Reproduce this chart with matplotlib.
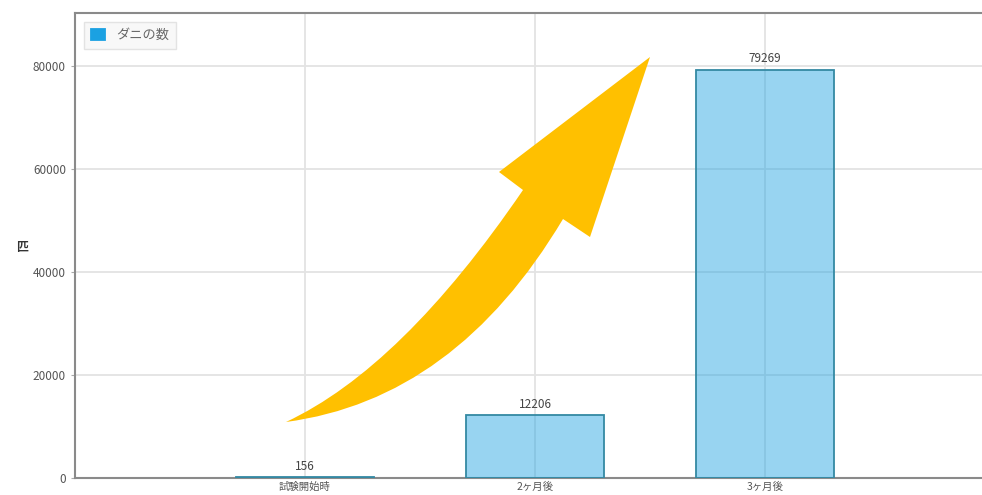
import matplotlib
matplotlib.use("Agg")
import matplotlib.pyplot as plt
from matplotlib.path import Path
from matplotlib.patches import PathPatch

plt.rcParams['font.family'] = ['Noto Sans CJK JP', 'DejaVu Sans']

# Data
categories = ['試験開始時', '2ヶ月後', '3ヶ月後']
counts = [156, 12206, 79269]
series_name = 'ダニの数'

W, H = 982, 495
fig = plt.figure(figsize=(W / 100, H / 100), dpi=100)
# axes runs a little past the right edge, like the cropped original
ax = fig.add_axes([75 / W, 1 - 478 / H, (995 - 75) / W, (478 - 13) / H])

x = list(range(len(categories)))
ax.bar(x, counts, width=0.6, color=(27 / 255, 161 / 255, 226 / 255, 0.45),
       edgecolor='#3489a3', linewidth=1.3, label=series_name, zorder=3)

for xi, v in zip(x, counts):
    ax.text(xi, v + 900, str(v), ha='center', va='bottom',
            fontsize=8.5, color='#444444')

ax.set_xlim(-1, 3)
ax.set_ylim(0, 90300)
ax.set_xticks(x)
ax.set_xticklabels(categories, fontsize=7.5, color='#555555')
ax.set_yticks([0, 20000, 40000, 60000, 80000])
ax.tick_params(axis='y', labelsize=8.5, labelcolor='#555555', length=3, color='#aaaaaa')
ax.tick_params(axis='x', length=0, pad=3)
ax.set_axisbelow(True)
ax.grid(True, color='#e3e3e3', linewidth=1.3)
for s in ['left', 'bottom', 'top']:
    ax.spines[s].set_color('#8a8a8a')
    ax.spines[s].set_linewidth(1.5)
ax.spines['right'].set_visible(False)

ax.set_ylabel('匹', rotation=0, fontsize=8.5, fontweight='bold', color='#333333',
              va='center', ha='center')
ax.yaxis.set_label_coords((22 - 75) / 920, (478 - 248) / 465)

leg = ax.legend(loc='upper left', fontsize=9.5, frameon=True, fancybox=False,
                handlelength=1.1, handleheight=0.9, borderpad=0.5,
                bbox_to_anchor=(0.003, 0.994))
leg.get_frame().set_edgecolor('#dddddd')
leg.get_frame().set_facecolor('#f7f7f7')
for t in leg.get_texts():
    t.set_color('#666666')
for h in leg.legend_handles:
    h.set_facecolor('#1BA1E2')
    h.set_edgecolor('#1BA1E2')

# big curved yellow arrow (pixel coordinates of the picture)
pts = [
    (286, 422),
    (401.5, 368), (523, 190),     # upper edge of shaft
    (499, 172),                   # left wing
    (650, 57),                    # tip
    (590, 237),                   # right wing
    (563, 219),                   # inner corner
    (455.5, 399.5), (286, 422),   # lower edge back to tail
    (286, 422),
]
codes = [Path.MOVETO, Path.CURVE3, Path.CURVE3, Path.LINETO, Path.LINETO,
         Path.LINETO, Path.LINETO, Path.CURVE3, Path.CURVE3, Path.CLOSEPOLY]
verts = [(px / W, 1 - py / H) for px, py in pts]
arrow = PathPatch(Path(verts, codes), facecolor='#FFC000', edgecolor='none',
                  transform=fig.transFigure, zorder=5)
fig.add_artist(arrow)

fig.savefig('out.png', dpi=100)
